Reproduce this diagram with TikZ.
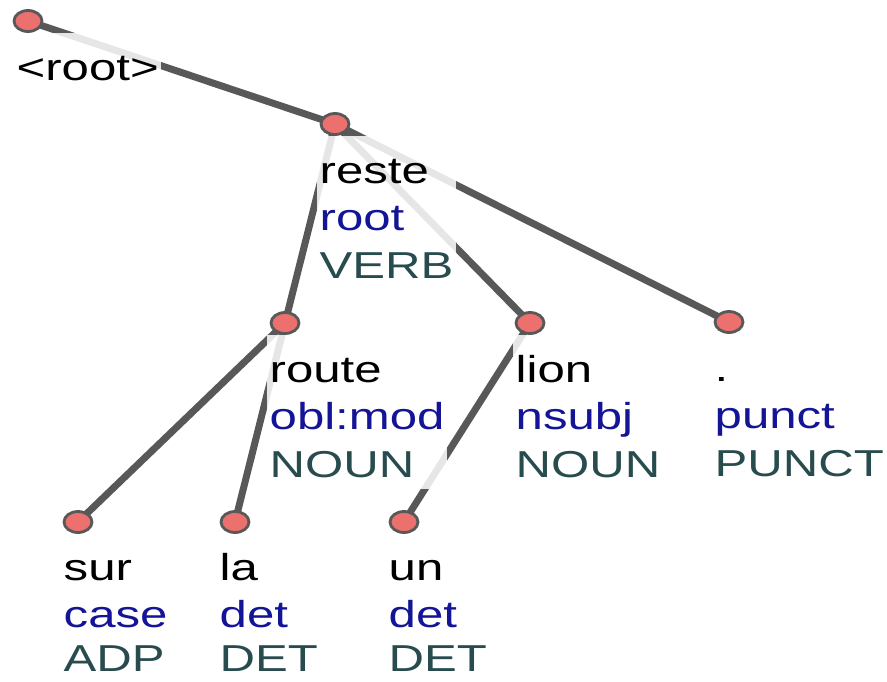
\documentclass[tikz,border=0pt]{standalone}
\usepackage{fontspec}
\newfontfamily\labfont[FakeStretch=1.31]{Liberation Sans}
\usetikzlibrary{shapes.geometric}
\pgfdeclarelayer{edgelayer}
\pgfdeclarelayer{boxlayer}
\pgfsetlayers{edgelayer,boxlayer,main}
\definecolor{edgegray}{RGB}{88,88,88}
\definecolor{tokfill}{RGB}{236,112,110}
\definecolor{relblue}{RGB}{20,20,150}
\definecolor{posteal}{RGB}{40,75,78}
\newcommand\wrd[1]{\rule{0pt}{47pt}#1}
\newcommand\rel[1]{\textcolor{relblue}{#1}}
\newcommand\pos[1]{\textcolor{posteal}{#1}\rule[-12pt]{0pt}{12pt}}
\newcommand\posleaf[1]{\textcolor{posteal}{#1}}
\begin{document}
\begin{tikzpicture}[x=1pt,y=-1pt,
  tok/.style={ellipse, draw=edgegray, line width=2.8pt, fill=tokfill,
    minimum width=28pt, minimum height=21pt, inner sep=0pt},
  lab/.style={anchor=north west, align=left, fill=white, fill opacity=0.85,
    text opacity=1, inner xsep=2.5pt, inner ysep=0pt,
    font=\labfont\fontsize{37.5}{47.5}\selectfont},
  depedge/.style={draw=edgegray, line width=7pt}]
\useasboundingbox (0,0) rectangle (887,681);

% tokens
\node[tok] (n0) at (28,21) {};
\node[tok] (n1) at (335,124) {};
\node[tok] (n2) at (285,323) {};
\node[tok] (n3) at (530,323) {};
\node[tok] (n4) at (729,322) {};
\node[tok] (n5) at (78,522) {};
\node[tok] (n6) at (235,522) {};
\node[tok] (n7) at (404,522) {};

% labels
\begin{pgfonlayer}{boxlayer}
\node[lab] (l0) at (14,33) {\wrd{<root>}\rule[-10pt]{0pt}{10pt}};
\node[lab] (l1) at (317,136) {\wrd{reste}\\\rel{root}\\\pos{VERB}};
\node[lab] (l2) at (267,335) {\wrd{route}\\\rel{obl:mod}\\\pos{NOUN}};
\node[lab] (l3) at (513,335) {\wrd{lion}\\\rel{nsubj}\\\pos{NOUN}};
\node[lab] (l4) at (712,334) {\wrd{.}\\\rel{punct}\\\pos{PUNCT}};
\node[lab] (l5) at (61,533) {\wrd{sur}\\\rel{case}\\[-4pt]\posleaf{ADP}};
\node[lab] (l6) at (217,533) {\wrd{la}\\\rel{det}\\[-4pt]\posleaf{DET}};
\node[lab] (l7) at (386,533) {\wrd{un}\\\rel{det}\\[-4pt]\posleaf{DET}};
\end{pgfonlayer}

% edges
\begin{pgfonlayer}{edgelayer}
\draw[depedge] (n0.center) -- (n1.center);
\draw[depedge] (n1.center) -- (n2.center);
\draw[depedge] (n1.center) -- (n3.center);
\draw[depedge] (n1.center) -- (n4.center);
\draw[depedge] (n2.center) -- (n5.center);
\draw[depedge] (n2.center) -- (n6.center);
\draw[depedge] (n3.center) -- (n7.center);
\end{pgfonlayer}
\end{tikzpicture}
\end{document}
